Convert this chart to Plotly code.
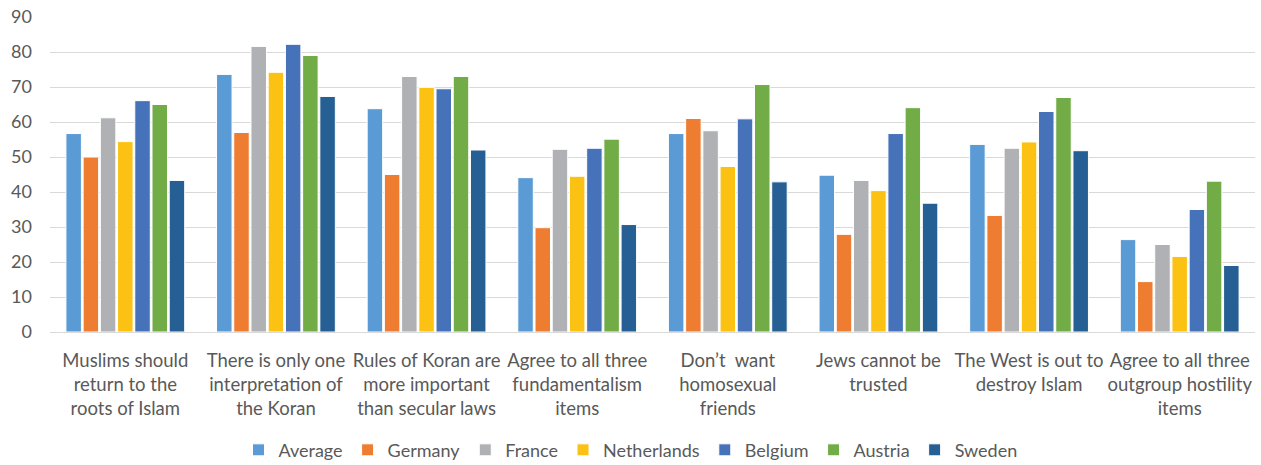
import plotly.graph_objects as go

categories = [
    "Muslims should<br>return to the<br>roots of Islam",
    "There is only one<br>interpretation of<br>the Koran",
    "Rules of Koran are<br>more important<br>than secular laws",
    "Agree to all three<br>fundamentalism<br>items",
    "Don\u2019t  want<br>homosexual<br>friends",
    "Jews cannot be<br>trusted",
    "The West is out to<br>destroy Islam",
    "Agree to all three<br>outgroup hostility<br>items",
]

average = [56.7, 73.6, 63.8, 44.1, 56.7, 44.8, 53.6, 26.4]
germany = [50.0, 57.0, 45.0, 29.8, 61.0, 27.9, 33.3, 14.4]
france = [61.2, 81.6, 73.0, 52.2, 57.5, 43.3, 52.5, 25.0]
netherlands = [54.4, 74.2, 69.9, 44.5, 47.3, 40.4, 54.3, 21.6]
belgium = [66.1, 82.2, 69.5, 52.5, 60.9, 56.7, 63.0, 35.0]
austria = [65.0, 79.0, 73.0, 55.1, 70.7, 64.1, 67.0, 43.1]
sweden = [43.3, 67.3, 52.0, 30.7, 42.9, 36.8, 51.8, 19.0]

series = [
    ("Average", average, "#5B9BD5"),
    ("Germany", germany, "#EE7D31"),
    ("France", france, "#B0B1B4"),
    ("Netherlands", netherlands, "#FBC213"),
    ("Belgium", belgium, "#4672BA"),
    ("Austria", austria, "#71AC47"),
    ("Sweden", sweden, "#255F93"),
]

FONT = "Lato, 'Open Sans', sans-serif"
TEXT = "#595959"

fig = go.Figure()
for name, vals, color in series:
    fig.add_trace(go.Bar(
        name=name, x=categories, y=vals,
        marker=dict(color=color, line=dict(color="white", width=1)),
    ))

fig.update_layout(
    width=1261, height=465,
    margin=dict(l=50, r=6, t=17, b=133, autoexpand=False),
    paper_bgcolor="white", plot_bgcolor="white",
    barmode="group", bargap=0.2, bargroupgap=0.1,
    font=dict(family=FONT, size=18, color=TEXT),
    showlegend=True,
    legend=dict(orientation="h", x=0.5, xanchor="center", xref="container",
                y=0.032, yanchor="middle", yref="container",
                font=dict(size=18, color=TEXT), itemwidth=30,
                traceorder="normal"),
)
fig.update_xaxes(showline=True, linecolor="#D9D9D9", linewidth=1, ticks="",
                 automargin=False, ticklabelstandoff=12,
                 tickfont=dict(size=18.5, color=TEXT))
fig.update_yaxes(range=[0, 90], dtick=10, showgrid=True, gridcolor="#D9D9D9",
                 gridwidth=1, zeroline=False, showline=False, ticks="",
                 automargin=False, ticklabelstandoff=17,
                 tickfont=dict(size=18, color=TEXT))

fig.write_html("out.html")
